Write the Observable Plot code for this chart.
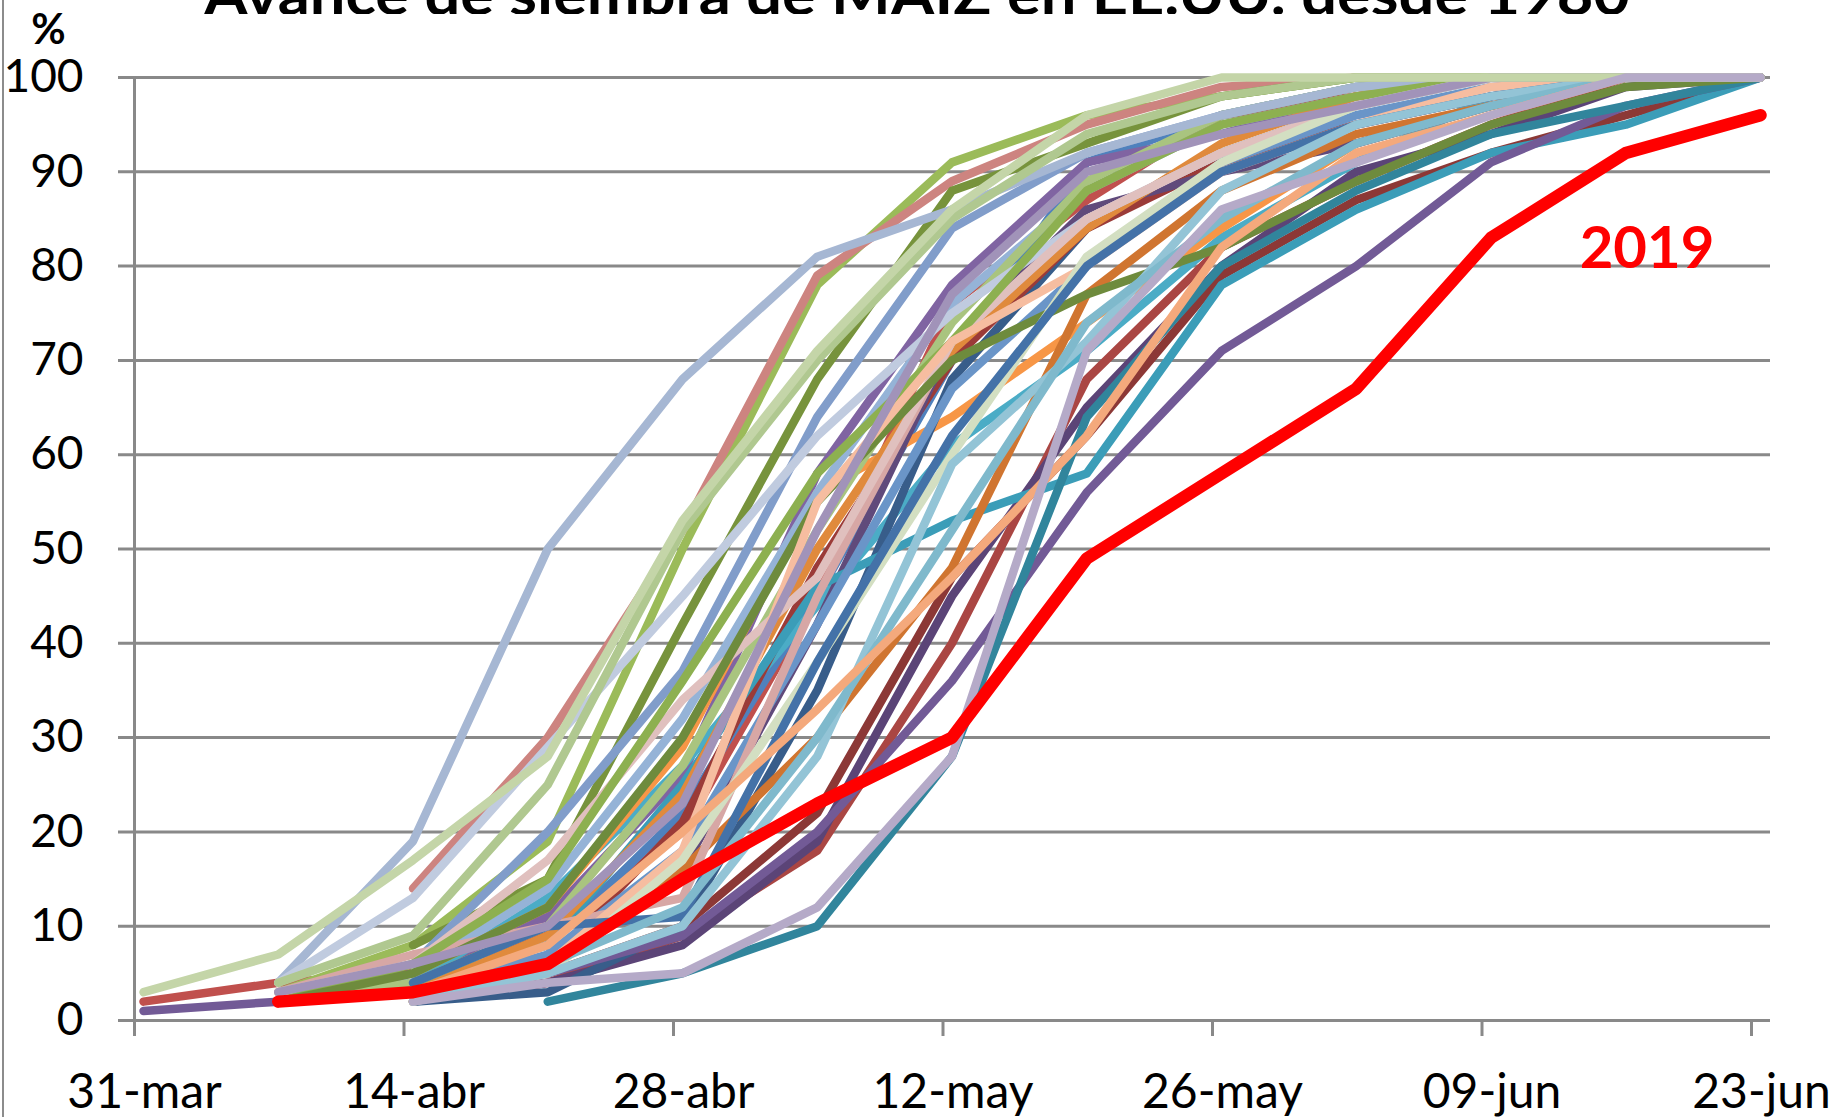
<!DOCTYPE html>
<html>
<head>
<meta charset="utf-8">
<script src="https://cdn.jsdelivr.net/npm/d3@7"></script>
<script src="https://cdn.jsdelivr.net/npm/@observablehq/plot@0.6"></script>
<style>
  html, body { margin: 0; padding: 0; background: #fff; overflow: hidden; }
  #wrap { position: relative; width: 1831px; height: 1117px; background: #fff; }
  #title { display: block; }
  #border { position: absolute; left: 2px; top: 0; width: 2px; height: 1117px; background: #8c8c8c; z-index: 5; }
</style>
</head>
<body>
<div id="wrap">
  <svg id="title" width="1831" height="14"></svg>
  <div id="chart"></div>
  <div id="border"></div>
</div>
<script>
// ---------- data ----------
const chartTitle = "Avance de siembra de MAIZ en EE.UU. desde 1980";
const weekLabels = ["31-mar","07-abr","14-abr","21-abr","28-abr","05-may","12-may","19-may","26-may","02-jun","09-jun","16-jun","23-jun"];
const tickWeeks = [0, 2, 4, 6, 8, 10, 12];
const yTicks = [0, 10, 20, 30, 40, 50, 60, 70, 80, 90, 100];

// % planted per week (31-mar ... 23-jun); null = no report yet
const y1980 = [null, null, 3, 5, 10, 22, 47, 62, 79, 87, 92, 96, 100];
const y1981 = [2, 4, 5, 9, 20, 45, 76, 87, 96, 98, 100, 100, 100];
const y1982 = [null, 2, 4, 8, 22, 45, 70, 91, 96, 99, 100, 100, 100];
const y1983 = [null, null, 2, 4, 9, 18, 40, 68, 82, 89, 95, 100, 100];
const y1984 = [null, null, 2, 4, 8, 19, 45, 65, 80, 90, 94, 99, 100];
const y1985 = [null, 2, 5, 11, 26, 58, 78, 91, 94, 98, 100, 100, 100];
const y1986 = [null, null, 4, 13, 27, 44, 61, 71, 83, 91, 98, 100, 100];
const y1987 = [null, null, 5, 12, 29, 56, 64, 74, 84, 93, 97, 100, 100];
const y1988 = [null, 3, 8, 19, 50, 78, 91, 96, 98, 100, 100, 100, 100];
const y1989 = [null, null, 14, 30, 52, 79, 89, 95, 99, 100, 100, 100, 100];
const y1990 = [null, null, 2, 3, 10, 35, 68, 84, 92, 97, 100, 100, 100];
const y1991 = [null, null, 8, 15, 42, 68, 88, 93, 98, 100, 100, 100, 100];
const y1992 = [null, null, 3, 6, 21, 48, 70, 84, 91, 95, 98, 100, 100];
const y1993 = [null, null, 3, 6, 16, 42, 72, 86, 90, 93, 97, 100, 100];
const y1994 = [null, null, 4, 8, 25, 46, 53, 58, 78, 86, 92, 95, 100];
const y1995 = [1, 2, 3, 5, 9, 20, 36, 56, 71, 80, 91, 97, 100];
const y1996 = [null, null, null, 2, 5, 10, 28, 64, 80, 88, 94, 97, 100];
const y1997 = [null, null, 2, 6, 16, 30, 48, 77, 88, 94, 97, 100, 100];
const y1998 = [null, null, 6, 20, 37, 64, 84, 92, 96, 99, 100, 100, 100];
const y1999 = [null, null, 5, 14, 32, 56, 76, 88, 95, 98, 100, 100, 100];
const y2000 = [null, 2, 4, 10, 27, 52, 74, 89, 96, 99, 100, 100, 100];
const y2001 = [null, null, 3, 9, 24, 50, 71, 84, 93, 98, 100, 100, 100];
const y2002 = [null, null, 3, 7, 18, 42, 67, 80, 91, 96, 99, 100, 100];
const y2003 = [null, 3, 7, 10, 13, 45, 72, 85, 92, 97, 100, 100, 100];
const y2004 = [null, 4, 19, 50, 68, 81, 86, 92, 96, 99, 100, 100, 100];
const y2005 = [null, 4, 13, 29, 45, 62, 75, 85, 92, 97, 100, 100, 100];
const y2006 = [null, 3, 6, 17, 34, 47, 72, 85, 92, 97, 100, 100, 100];
const y2007 = [null, 2, 6, 15, 36, 58, 72, 88, 95, 98, 100, 100, 100];
const y2008 = [null, 2, 5, 12, 30, 55, 70, 77, 82, 89, 95, 99, 100];
const y2009 = [null, null, 2, 6, 18, 55, 72, 80, 90, 95, 99, 100, 100];
const y2010 = [null, null, 2, 5, 17, 38, 60, 81, 91, 97, 100, 100, 100];
const y2011 = [null, null, 4, 10, 11, 38, 62, 80, 90, 95, 98, 100, 100];
const y2012 = [null, 4, 9, 25, 52, 70, 85, 94, 98, 100, 100, 100, 100];
const y2014 = [null, null, 2, 5, 10, 28, 59, 72, 88, 95, 98, 100, 100];
const y2015 = [null, null, 3, 6, 12, 30, 52, 74, 85, 93, 97, 100, 100];
const y2016 = [null, null, 3, 8, 20, 33, 47, 62, 82, 92, 96, 100, 100];
const y2018 = [null, 3, 6, 10, 23, 52, 77, 90, 94, 97, 100, 100, 100];
const y2017 = [3, 7, 17, 28, 53, 71, 86, 96, 100, 100, 100, 100, 100];
const y2013 = [null, null, 2, 4, 5, 12, 28, 71, 86, 91, 96, 100, 100];
const y2019 = [null, 2, 3, 6, 15, 23, 30, 49, 58, 67, 83, 92, 96];

// drawing order of the historical years
const years = [1980,1981,1982,1983,1984,1985,1986,1987,1988,1989,1990,1991,1992,1993,1994,1995,1996,1997,1998,1999,
               2000,2001,2002,2003,2004,2005,2006,2007,2008,2009,2010,2011,2012,2014,2015,2016,2018,2017,2013];
const yearValues = [y1980,y1981,y1982,y1983,y1984,y1985,y1986,y1987,y1988,y1989,y1990,y1991,y1992,y1993,y1994,y1995,y1996,y1997,y1998,y1999,
                    y2000,y2001,y2002,y2003,y2004,y2005,y2006,y2007,y2008,y2009,y2010,y2011,y2012,y2014,y2015,y2016,y2018,y2017,y2013];

// ---------- styles ----------
const palette = ["#8C3836","#C0504D","#4F81BD","#AA4643","#5B4477","#8064A2","#4BACC6","#F79646","#9BBB59","#CD8480",
                 "#385D8A","#77933C","#9B3B38","#604A7B","#3B9DB8","#725A96","#31859C","#D07530","#819DCA","#95B3D7",
                 "#A9C47F","#E08A3C","#6A95C8","#D7A7A5","#A6B7D3","#C0CBDF","#E0C0BE","#8DB050","#6E8B3D","#F6BDA0",
                 "#D3DFC2","#4472A8","#B0C890","#93C4D6","#7FB9CC","#F4A97C","#A193B9","#C4D5A8","#B5AAC8"];
const gridColor = "#898989";
const font = "Lato, 'Open Sans', 'Noto Sans', sans-serif";

// ---------- build rows ----------
const rows = [];
years.forEach((yr, k) => {
  yearValues[k].forEach((v, i) => { if (v !== null) rows.push({year: yr, week: i, value: v}); });
});
const rows2019 = [];
y2019.forEach((v, i) => { if (v !== null) rows2019.push({year: 2019, week: i, value: v}); });
const label2019 = rows2019.filter(d => d.week === 10);

// ---------- title ----------
d3.select("#title").append("text")
  .attr("x", 917).attr("y", 14.5)
  .attr("text-anchor", "middle")
  .attr("font-family", font)
  .attr("font-weight", "bold")
  .attr("font-size", 58)
  .attr("textLength", 1426)
  .attr("lengthAdjust", "spacingAndGlyphs")
  .attr("fill", "#000")
  .text(chartTitle);

// ---------- chart ----------
const chart = Plot.plot({
  width: 1831,
  height: 1103,
  marginTop: 63,
  marginBottom: 97,
  marginLeft: 118,
  marginRight: 61,
  x: {domain: [0, 12], insetLeft: 16, insetRight: 19, label: null},
  y: {domain: [0, 100], label: null},
  color: {domain: years, range: palette},
  style: {fontFamily: font, color: "#000", background: "#fff", overflow: "visible"},
  marks: [
    Plot.ruleY(yTicks, {stroke: gridColor, strokeWidth: 3}),
    Plot.ruleX([0], {y1: 0, y2: 100, stroke: gridColor, strokeWidth: 3}),
    Plot.axisY({ticks: yTicks, tickSize: 0, tickPadding: 35, fontSize: 46, label: null, tickFormat: d => String(d)}),
    Plot.axisX({ticks: tickWeeks, tickSize: 16, tickPadding: 0, stroke: gridColor, strokeWidth: 3, label: null, tickFormat: () => ""}),
    Plot.axisX({ticks: tickWeeks, tickSize: 0, tickPadding: 53, fontSize: 48, dx: 10, label: null, tickFormat: i => weekLabels[i]}),
    Plot.lineY(rows, {x: "week", y: "value", z: "year", stroke: "year", strokeWidth: 8.5, dx: 9,
                      strokeLinecap: "round", strokeLinejoin: "round"}),
    Plot.lineY(rows2019, {x: "week", y: "value", stroke: "#ff0000", strokeWidth: 12.5, dx: 9,
                          strokeLinecap: "round", strokeLinejoin: "round"}),
    Plot.text(label2019, {x: "week", y: "value", text: d => String(d.year), fill: "#ff0000",
                          fontSize: 58, fontWeight: "bold", dx: 165, dy: 12}),
    Plot.text(["%"], {frameAnchor: "top-left", text: d => d, textAnchor: "middle", lineAnchor: "middle",
                      dx: -70, dy: -47, fontSize: 42, fontWeight: "bold", fill: "#000"})
  ]
});
document.getElementById("chart").appendChild(chart);
</script>
</body>
</html>
